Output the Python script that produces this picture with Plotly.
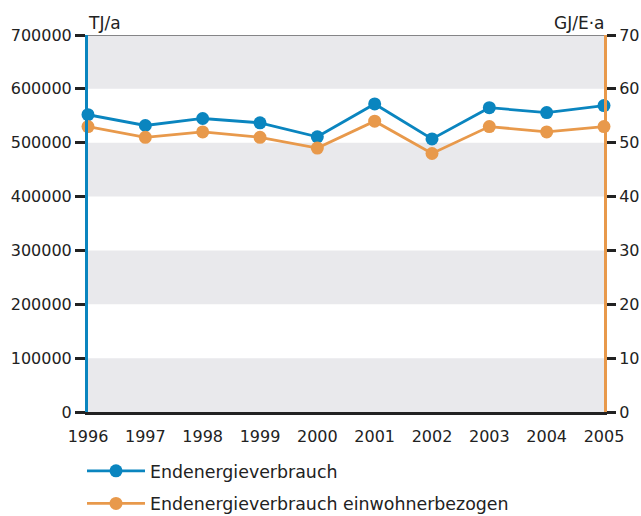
import plotly.graph_objects as go

years = [1996, 1997, 1998, 1999, 2000, 2001, 2002, 2003, 2004, 2005]
endenergie = [552000, 532000, 545000, 537000, 511000, 572000, 507000, 565000, 556000, 569000]
einwohner = [53, 51, 52, 51, 49, 54, 48, 53, 52, 53]
left_ticks = [0, 100000, 200000, 300000, 400000, 500000, 600000, 700000]
right_ticks = [0, 10, 20, 30, 40, 50, 60, 70]
band_starts = [0, 200000, 400000, 600000]

BLUE = "#0a85bf"
ORANGE = "#e8994b"
FONT = "DejaVu Sans"
TXT = "#222222"

fig = go.Figure()
fig.add_trace(go.Scatter(
    x=years, y=endenergie, name="Endenergieverbrauch", mode="lines+markers",
    line=dict(color=BLUE, width=2.8), marker=dict(color=BLUE, size=13),
    cliponaxis=False, yaxis="y", legendgroup="a"))
fig.add_trace(go.Scatter(
    x=years, y=einwohner, name="Endenergieverbrauch einwohnerbezogen", mode="lines+markers",
    line=dict(color=ORANGE, width=2.8), marker=dict(color=ORANGE, size=13),
    cliponaxis=False, yaxis="y2", legendgroup="b"))

shapes = []
for b in band_starts:
    shapes.append(dict(type="rect", xref="paper", yref="y", x0=0, x1=1, y0=b, y1=b + 100000,
                       fillcolor="#e9e9ec", line=dict(width=0), layer="below"))
shapes.append(dict(type="line", xref="paper", yref="y", x0=0, x1=1, y0=700000, y1=700000,
                   line=dict(color=TXT, width=1)))

# figure is a bit taller than the 516px window so the legend fits without pushing margins
H = 545
PLOT_H = 377
fig.update_layout(
    width=641, height=H,
    margin=dict(l=88, r=37, t=35, b=H - 35 - PLOT_H),
    paper_bgcolor="white", plot_bgcolor="white",
    font=dict(family=FONT, size=16, color=TXT),
    shapes=shapes,
    xaxis=dict(range=[1996, 2005], tickvals=years, ticktext=[str(y) for y in years],
               showgrid=False, zeroline=False, showline=True, linecolor=TXT, linewidth=3,
               ticks="outside", ticklen=8, tickcolor="rgba(0,0,0,0)", automargin=False,
               tickfont=dict(size=16)),
    yaxis=dict(range=[0, 700000], tickvals=left_ticks, ticktext=[str(t) for t in left_ticks],
               showgrid=False, zeroline=False, showline=True, linecolor=BLUE, linewidth=3,
               ticks="outside", ticklen=10, tickwidth=2.5, tickcolor=TXT, automargin=False),
    yaxis2=dict(range=[0, 70], tickvals=right_ticks, overlaying="y", side="right",
                showgrid=False, zeroline=False, showline=True, linecolor=ORANGE, linewidth=3,
                ticks="outside", ticklen=9, tickwidth=2.5, tickcolor=TXT, automargin=False),
    legend=dict(orientation="v", x=-6 / 516, xanchor="left", y=-(453 - 412) / PLOT_H, yanchor="top",
                font=dict(size=17.4), itemwidth=58, tracegroupgap=7, bgcolor="rgba(0,0,0,0)"),
    showlegend=True,
    annotations=[
        dict(text="TJ/a", xref="paper", yref="paper", x=0, y=1, xanchor="left", yanchor="bottom",
             showarrow=False, font=dict(size=17), xshift=-2, yshift=0),
        dict(text="GJ/E·a", xref="paper", yref="paper", x=1, y=1, xanchor="right", yanchor="bottom",
             showarrow=False, font=dict(size=17), xshift=2, yshift=0),
    ],
)

fig.write_html("out.html", config={"displayModeBar": False},
               post_script="document.body.style.margin='0';document.body.style.overflow='hidden';")
